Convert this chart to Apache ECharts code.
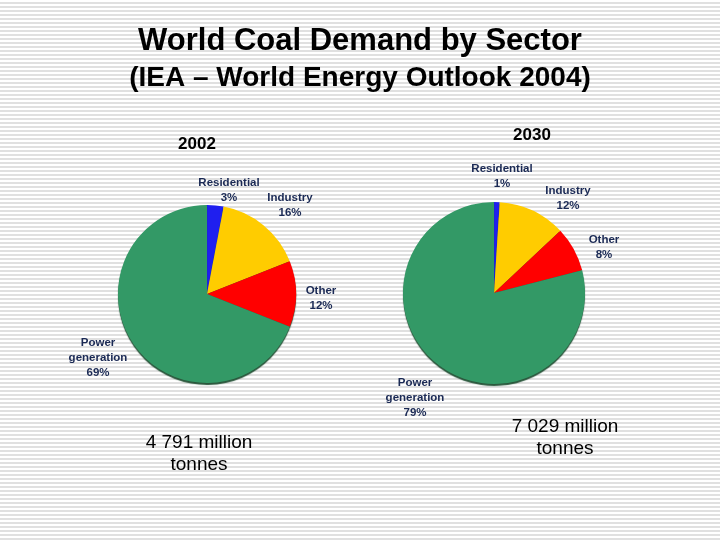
<!DOCTYPE html>
<html>
<head>
<meta charset="utf-8">
<title>World Coal Demand by Sector</title>
<script src="https://cdn.jsdelivr.net/npm/echarts@6/dist/echarts.min.js"></script>
<style>
    html, body { margin: 0; padding: 0; }
    body {
        background: repeating-linear-gradient(to bottom, #ffffff 0px, #ffffff 2px, #e0e0e0 2px, #e0e0e0 4px);
    }
    #main { width: 720px; height: 540px; }
</style>
</head>
<body>
<div id="main"></div>
<script>
// sectors, clockwise from 12 o'clock
var sectors = ['Residential', 'Industry', 'Other', 'Power generation'];
var colors = ['#1f1fef', '#ffcc00', '#ff0000', '#339966'];
var share2002 = [3, 16, 12, 69];
var share2030 = [1, 12, 8, 79];
var totals = ['4 791 million\ntonnes', '7 029 million\ntonnes'];
var years = ['2002', '2030'];

// where each slice label sits (centre of text block), per pie
var labelSpots = [
    [[229, 190], [290, 205], [321, 298], [98, 358]],
    [[502, 176], [568, 198], [604, 247], [415, 398]]
];

var buildData = function (values) {
    var out = [];
    for (var i = 0; i < sectors.length; i++) {
        out.push({ name: sectors[i], value: values[i], itemStyle: { color: colors[i] } });
    }
    return out;
};

var pieSeries = function (idx, values, center, radius) {
    return {
        type: 'pie',
        center: center,
        radius: radius,
        startAngle: 90,
        clockwise: true,
        silent: true,
        animation: false,
        itemStyle: {
            borderWidth: 0,
            shadowColor: 'rgba(20,70,40,0.9)',
            shadowOffsetY: 2,
            shadowBlur: 1
        },
        label: {
            show: true,
            position: 'outside',
            formatter: function (p) {
                return p.name.replace(' ', '\n') + '\n' + p.value + '%';
            },
            fontFamily: 'Liberation Sans, Arial, sans-serif',
            fontWeight: 'bold',
            fontSize: 11.5,
            lineHeight: 15,
            color: '#1b2a55',
            align: 'center'
        },
        labelLine: { show: false },
        labelLayout: function (params) {
            var spot = labelSpots[idx][params.dataIndex];
            return { x: spot[0], y: spot[1], align: 'center', verticalAlign: 'middle' };
        },
        data: buildData(values)
    };
};

var myChart = echarts.init(document.getElementById('main'), null, { renderer: 'canvas' });
var option = {
    backgroundColor: 'transparent',
    title: [
        {
            text: 'World Coal Demand by Sector',
            left: 'center',
            top: 21,
            textStyle: { fontFamily: 'Liberation Sans, Arial, sans-serif', fontSize: 31, fontWeight: 'bold', color: '#000' }
        },
        {
            text: '(IEA \u2013 World Energy Outlook 2004)',
            left: 'center',
            top: 59,
            textStyle: { fontFamily: 'Liberation Sans, Arial, sans-serif', fontSize: 28, fontWeight: 'bold', color: '#000' }
        }
    ],
    graphic: [
        { type: 'text', x: 197, y: 144, style: { text: years[0], fill: '#000', font: 'bold 17px Liberation Sans, Arial', textAlign: 'center', textVerticalAlign: 'middle' } },
        { type: 'text', x: 532, y: 135, style: { text: years[1], fill: '#000', font: 'bold 17px Liberation Sans, Arial', textAlign: 'center', textVerticalAlign: 'middle' } },
        { type: 'text', x: 199, y: 454, style: { text: totals[0], fill: '#000', font: '19px Liberation Sans, Arial', lineHeight: 22, textAlign: 'center', textVerticalAlign: 'middle' } },
        { type: 'text', x: 565, y: 438, style: { text: totals[1], fill: '#000', font: '19px Liberation Sans, Arial', lineHeight: 22, textAlign: 'center', textVerticalAlign: 'middle' } }
    ],
    series: [
        pieSeries(0, share2002, [207, 294], 89),
        pieSeries(1, share2030, [494, 293], 91)
    ]
};
myChart.setOption(option);
</script>
</body>
</html>
